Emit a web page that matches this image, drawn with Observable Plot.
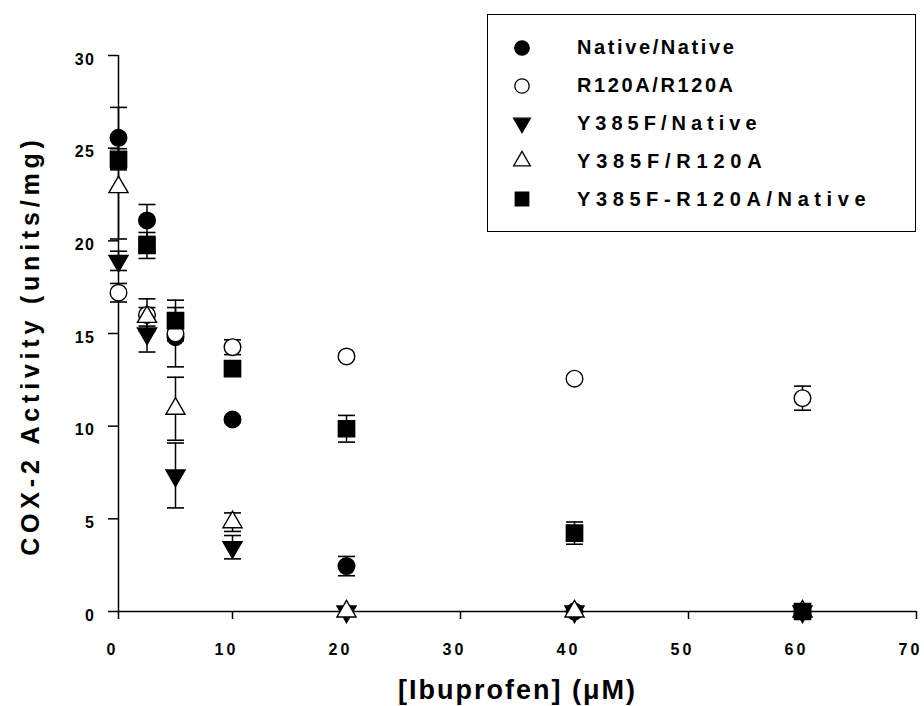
<!DOCTYPE html>
<html><head><meta charset="utf-8">
<script src="https://cdn.jsdelivr.net/npm/d3@7"></script>
<script src="https://cdn.jsdelivr.net/npm/@observablehq/plot@0.6"></script>
<style>
html,body{margin:0;padding:0;background:#fff;}
#wrap{position:relative;width:924px;height:706px;overflow:hidden;font-family:"Liberation Sans",Arial,sans-serif;}
#legend{position:absolute;left:487px;top:14px;width:429px;height:218px;border:1.5px solid #000;box-sizing:border-box;background:#fff;padding-top:14px;}
.row{height:37.8px;display:flex;align-items:center;}
.row svg{width:30px;height:30px;margin-left:19px;}
.row span{margin-left:40px;font-weight:bold;font-size:20px;color:#000;white-space:nowrap;}
g[aria-label="x-axis tick label"] text{letter-spacing:3px;}
g[aria-label="y-axis tick label"] text{letter-spacing:1.5px;}
</style></head><body>
<div id="wrap"><div id="chart"></div><div id="legend"></div></div>
<script>
// ---- data ----
const seriesNames = ["Native/Native", "R120A/R120A", "Y385F/Native", "Y385F/R120A", "Y385F-R120A/Native"];
const conc = [0, 2.5, 5, 10, 20, 40, 60];              // [Ibuprofen] (µM)
const nativeNative      = [25.56, 21.1, 14.8, 10.36, 2.45, 0, 0];
const nativeNativeErr   = [1.64, 0.86, 1.6, 0.15, 0.52, 0, 0];
const r120a             = [17.2, 16.0, 15.0, 14.26, 13.76, 12.56, 11.51];
const r120aErr          = [0.5, 0.87, 0.3, 0.4, 0.15, 0.1, 0.65];
const y385fNative       = [18.92, 15.0, 7.34, 3.47, 0, 0, 0];
const y385fNativeErr    = [0.52, 1.0, 1.75, 0.63, 0, 0, 0];
const y385fR120a        = [22.9, 15.9, 10.94, 4.82, 0, 0, 0];
const y385fR120aErr     = [2.8, 0.5, 1.7, 0.5, 0, 0, 0];
const y385fR120aNative    = [24.4, 19.75, 15.7, 13.1, 9.86, 4.23, 0];
const y385fR120aNativeErr = [0.57, 0.7, 1.1, 0.2, 0.72, 0.6, 0];
const xTicks = [0, 10, 20, 30, 40, 50, 60, 70];
const yTicks = [0, 5, 10, 15, 20, 25, 30];
const xLabel = "[Ibuprofen] (μM)";
const yLabel = "COX-2 Activity (units/mg)";

// ---- symbols & styles ----
const sqrt3 = Math.sqrt(3);
const triangleDown = {
  draw(ctx, size) {
    const y = -Math.sqrt(size / (sqrt3 * 3));
    ctx.moveTo(0, -y * 2);
    ctx.lineTo(-sqrt3 * y, y);
    ctx.lineTo(sqrt3 * y, y);
    ctx.closePath();
  }
};
const capSymbol = { draw(ctx) { ctx.moveTo(-8.5, 0); ctx.lineTo(8.5, 0); } };

const values = [nativeNative, r120a, y385fNative, y385fR120a, y385fR120aNative];
const errors = [nativeNativeErr, r120aErr, y385fNativeErr, y385fR120aErr, y385fR120aNativeErr];
const styles = [
  {symbol: d3.symbolCircle, fill: "black", r: 8.3, lr: 7.2, ls: 2.6},
  {symbol: d3.symbolCircle, fill: "white", r: 8.3, lr: 7.2, ls: 2.6},
  {symbol: triangleDown, fill: "black", r: 7.1, lr: 6.2, ls: 5.0},
  {symbol: d3.symbolTriangle, fill: "white", r: 7.1, lr: 6.2, ls: 5.8},
  {symbol: d3.symbolSquare, fill: "black", r: 9.2, lr: 7.6, ls: 5.6}
];

const rows = seriesNames.flatMap((name, s) =>
  conc.map((x, i) => ({series: name, s, x, y: values[s][i], e: errors[s][i]})));
const errRows = rows.filter(d => d.e > 0);
const caps = errRows.flatMap(d => [{x: d.x, y: d.y - d.e}, {x: d.x, y: d.y + d.e}]);

const chart = Plot.plot({
  width: 924,
  height: 706,
  marginLeft: 118,
  marginRight: 8,
  marginTop: 55,
  marginBottom: 95,
  style: {fontFamily: "'Liberation Sans', Arial, sans-serif", fontWeight: "bold", color: "black", background: "white", overflow: "visible"},
  x: {domain: [0, 70], axis: null},
  y: {domain: [0, 30], axis: null},
  marks: [
    // tick lines
    Plot.axisY({ticks: yTicks, tickSize: 10, label: null, strokeWidth: 1.5, tickFormat: () => ""}),
    Plot.axisX({ticks: xTicks, tickSize: 8, label: null, strokeWidth: 1.5, tickFormat: () => ""}),
    // tick labels (slightly offset as in the original)
    Plot.axisY({ticks: yTicks, tickSize: 0, tickPadding: 23, dy: 4, fontSize: 16, fontWeight: "bold", label: null, tickFormat: d => String(d)}),
    Plot.axisX({ticks: xTicks, tickSize: 0, tickPadding: 32, dx: -6, fontSize: 16, fontWeight: "bold", label: null, tickFormat: d => String(d)}),
    Plot.ruleX([0], {stroke: "black", strokeWidth: 1.5}),
    Plot.ruleY([0], {stroke: "black", strokeWidth: 1.5}),
    Plot.ruleX(errRows, {x: "x", y1: d => d.y - d.e, y2: d => d.y + d.e, stroke: "black", strokeWidth: 1.5}),
    Plot.dot(caps, {x: "x", y: "y", symbol: capSymbol, r: 5, stroke: "black", fill: "none", strokeWidth: 1.6}),
    ...seriesNames.map((name, s) =>
      Plot.dot(rows.filter(d => d.s === s), {
        x: "x", y: "y", symbol: styles[s].symbol, r: styles[s].r,
        fill: styles[s].fill, stroke: "black", strokeWidth: 1.4
      })),
    Plot.text([xLabel], {text: d => d, frameAnchor: "bottom", lineAnchor: "middle", textAnchor: "middle", dy: 79, fontSize: 27, fontWeight: "bold", fill: "black"}),
    Plot.text([yLabel], {text: d => d, frameAnchor: "left", lineAnchor: "middle", textAnchor: "middle", dx: -88, dy: 12, rotate: -90, fontSize: 25, fontWeight: "bold", fill: "black"})
  ]
});
document.getElementById("chart").appendChild(chart);
d3.select(chart).selectAll("text")
  .filter(function() { return this.textContent === yLabel; })
  .attr("letter-spacing", "4.8px");
d3.select(chart).selectAll("text")
  .filter(function() { return this.textContent === xLabel; })
  .attr("letter-spacing", "2px");

// ---- legend (HTML overlay) ----
const legend = d3.select("#legend");
seriesNames.forEach((name, s) => {
  const row = legend.append("div").attr("class", "row");
  const svg = row.append("svg").attr("viewBox", "-15 -15 30 30");
  svg.append("path")
    .attr("d", d3.symbol(styles[s].symbol, Math.PI * styles[s].lr * styles[s].lr)())
    .attr("fill", styles[s].fill)
    .attr("stroke", "black")
    .attr("stroke-width", 1.3);
  row.append("span").style("letter-spacing", styles[s].ls + "px").text(name);
});
</script></body></html>
